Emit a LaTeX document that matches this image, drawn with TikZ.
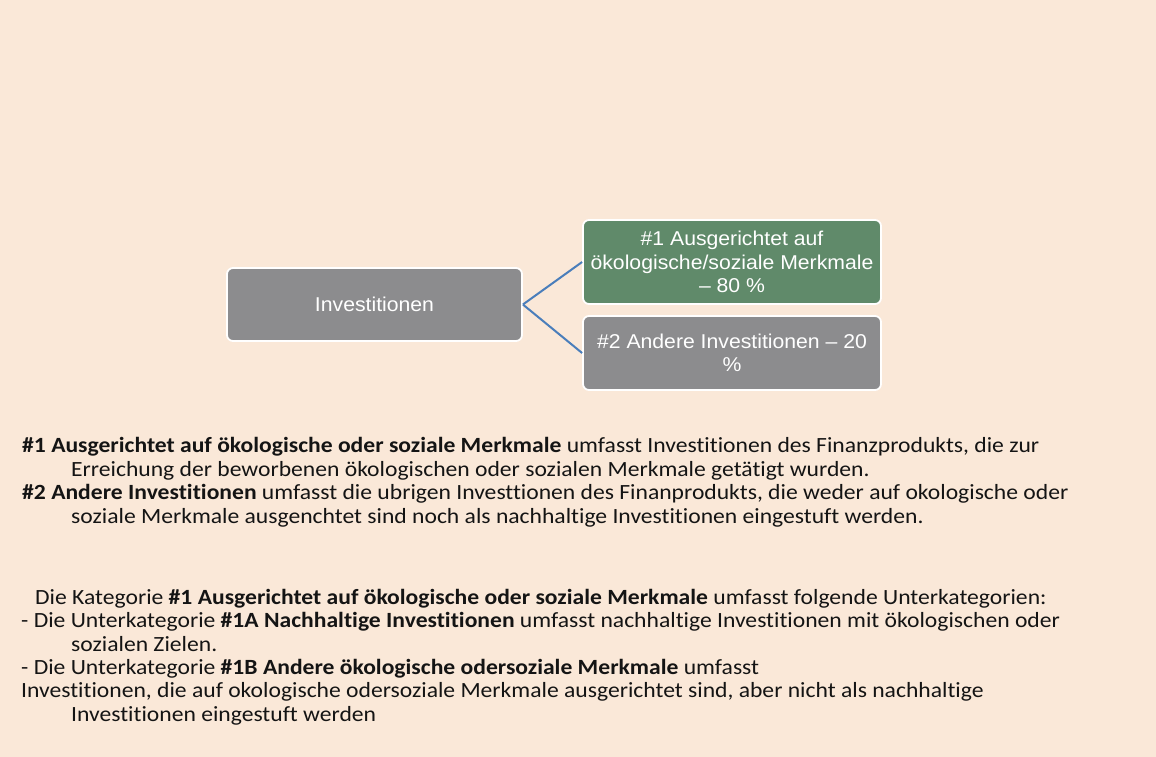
\documentclass[tikz,border=0pt]{standalone}
\usepackage{fontspec}
\setmainfont{Carlito}[Ligatures={TeX,NoCommon},FakeStretch=1.088]
\newfontfamily\boxfont{Liberation Sans}[FakeStretch=1.06]
\usepackage{tikz}
\usetikzlibrary{positioning}

\definecolor{peach}{RGB}{250,232,216}
\definecolor{boxgray}{RGB}{140,140,142}
\definecolor{boxgreen}{RGB}{96,138,106}
\definecolor{linkblue}{RGB}{74,126,187}
\definecolor{ink}{RGB}{20,20,20}

\begin{document}
\begin{tikzpicture}[x=1pt,y=-1pt,
		catbox/.style={rectangle,rounded corners=6pt,draw=white,line width=1.8pt,fill=boxgray,
			text=white,align=center,font=\boxfont\fontsize{20}{23.5}\selectfont,inner sep=2pt},
		link/.style={draw=linkblue,line width=2pt},
		txt/.style={anchor=base west,inner sep=0pt,text=ink,font=\fontsize{21.7}{23.5}\selectfont}]
	\useasboundingbox (0,0) rectangle (1156,756);
	\fill[peach] (-2,-2) rectangle (1158,758);

	\node[catbox,minimum width=295pt,minimum height=73pt] (inv) at (374.5,304.5) {Investitionen};
	\node[catbox,fill=boxgreen,minimum width=298pt,minimum height=84pt] (cat1) at (732,262)
		{\#1 Ausgerichtet auf\\ökologische/soziale Merkmale\\– 80 \%};
	\node[catbox,minimum width=298pt,minimum height=74pt] (cat2) at (732,353)
		{\#2 Andere Investitionen – 20\\\%};
	\draw[link] (inv.east) -- (cat1.west);
	\draw[link] (inv.east) -- (cat2.west);

	\node[txt] (l1) at (22,452.5) {\textbf{\#1 Ausgerichtet auf ökologische oder soziale Merkmale} umfasst Investitionen des Finanzprodukts, die zur};
	\node[txt] (l2) at (71,476) {Erreichung der beworbenen ökologischen oder sozialen Merkmale getätigt wurden.};
	\node[txt] (l3) at (22,499.5) {\textbf{\#2 Andere Investitionen} umfasst die ubrigen Investtionen des Finanprodukts, die weder auf okologische oder};
	\node[txt] (l4) at (71,523) {soziale Merkmale ausgenchtet sind noch als nachhaltige Investitionen eingestuft werden.};

	\node[txt] (l5) at (35,604) {Die Kategorie \textbf{\#1 Ausgerichtet auf ökologische oder soziale Merkmale} umfasst folgende Unterkategorien:};
	\node[txt] (l6) at (21,627.5) {- Die Unterkategorie \textbf{\#1A Nachhaltige Investitionen} umfasst nachhaltige Investitionen mit ökologischen oder};
	\node[txt] (l7) at (71,651) {sozialen Zielen.};
	\node[txt] (l8) at (21,674) {- Die Unterkategorie \textbf{\#1B Andere ökologische odersoziale Merkmale} umfasst};
	\node[txt] (l9) at (21,697.5) {Investitionen, die auf okologische odersoziale Merkmale ausgerichtet sind, aber nicht als nachhaltige};
	\node[txt] (l10) at (71,721) {Investitionen eingestuft werden};
\end{tikzpicture}
\end{document}
